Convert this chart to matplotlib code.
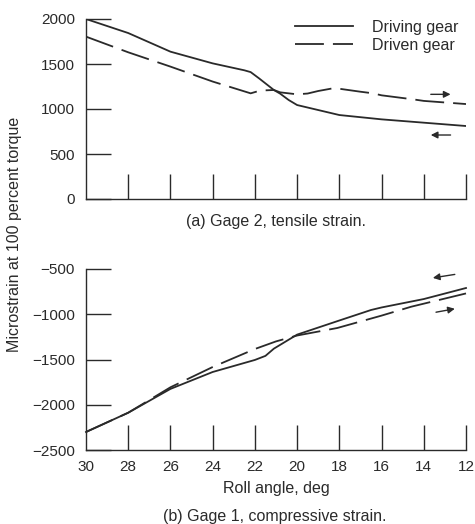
import matplotlib
matplotlib.use("Agg")
import matplotlib.pyplot as plt

plt.rcParams['font.family'] = ['Liberation Sans', 'DejaVu Sans']

# (a) Gage 2, tensile strain
a_drive_x = [30, 28, 26, 24, 22.5, 22.2, 21.8, 21.1, 20.8, 20.4, 20, 18, 16, 14, 12]
a_drive_y = [2000, 1844, 1637, 1507, 1430, 1410, 1340, 1211, 1170, 1100, 1044, 933, 885, 848, 811]
a_driven_x = [30, 28, 26, 24, 22.2, 21.75, 21.1, 20.8, 20, 19.5, 19, 18.3, 18, 17, 16.4, 16, 14.5, 14, 12]
a_driven_y = [1804, 1630, 1471, 1305, 1174, 1205, 1211, 1185, 1163, 1172, 1200, 1230, 1225, 1192, 1174, 1152, 1107, 1090, 1055]

# (b) Gage 1, compressive strain
b_drive_x = [30, 28, 26, 24, 22, 21.5, 21.1, 20, 18, 16.5, 16, 14, 12]
b_drive_y = [-2301, -2088, -1825, -1638, -1505, -1460, -1380, -1225, -1069, -953, -925, -832, -710]
b_driven_x = [30, 28, 26, 24, 22, 21, 20, 18.1, 16, 14.6, 12]
b_driven_y = [-2301, -2088, -1807, -1583, -1384, -1300, -1235, -1152, -1015, -917, -770]

x_ticks = [30, 28, 26, 24, 22, 20, 18, 16, 14, 12]
a_yticks = [0, 500, 1000, 1500, 2000]
b_yticks = [-2500, -2000, -1500, -1000, -500]

ink = '#2a2a2a'
W, H = 475, 524
fig = plt.figure(figsize=(W / 100, H / 100), dpi=100)

def pos(l, r, t, b):
    return [l / W, 1 - b / H, (r - l) / W, (b - t) / H]

ax1 = fig.add_axes(pos(86, 466, 19, 199))
ax2 = fig.add_axes(pos(86, 466, 269, 450))

dash = (0, (16, 5))
for ax in (ax1, ax2):
    ax.set_xlim(30, 12)
    for s in ('top', 'right'):
        ax.spines[s].set_visible(False)
    for s in ('left', 'bottom'):
        ax.spines[s].set_color(ink)
        ax.spines[s].set_linewidth(1.0)
    ax.set_xticks(x_ticks[1:])
    ax.tick_params(axis='both', direction='in', length=18, width=1.0,
                   color=ink, labelcolor=ink, labelsize=11)
    ax.tick_params(axis='y', pad=8)

ax1.plot(a_drive_x, a_drive_y, color=ink, lw=1.3, label='Driving gear')
ax1.plot(a_driven_x, a_driven_y, color=ink, lw=1.3, linestyle=dash, label='Driven gear')
ax1.set_ylim(0, 2000)
ax1.set_yticks(a_yticks)
ax1.tick_params(axis='x', labelbottom=False)
ax1.set_xlabel('(a) Gage 2, tensile strain.', fontsize=11.5, color=ink, labelpad=11)
leg = ax1.legend(loc='upper left', bbox_to_anchor=(295 / W, 1 - 20 / H),
                 bbox_transform=fig.transFigure, frameon=False, borderpad=0,
                 borderaxespad=0, fontsize=11.5, handlelength=3.6,
                 handletextpad=1.25, labelspacing=0.18, labelcolor=ink)

ax2.plot(b_drive_x, b_drive_y, color=ink, lw=1.3, clip_on=False)
ax2.plot(b_driven_x, b_driven_y, color=ink, lw=1.3, linestyle=dash, clip_on=False)
ax2.set_ylim(-2500, -500)
ax2.set_yticks(b_yticks)
ax2.set_xticks(x_ticks)
ax2.set_xticklabels([str(v) for v in x_ticks])
ax2.tick_params(axis='x', pad=7)
ax2.set_xlabel('Roll angle, deg', fontsize=11.5, color=ink, labelpad=5)
ax2.get_xaxis().get_major_ticks()[0].tick1line.set_visible(False)

# direction arrows
arrow_kw = dict(arrowstyle='-|>', color=ink, lw=1.0, mutation_scale=10)
ax1.annotate('', xy=(12.6, 1163), xytext=(13.8, 1163), arrowprops=arrow_kw, annotation_clip=False)
ax1.annotate('', xy=(13.8, 711), xytext=(12.6, 711), arrowprops=arrow_kw, annotation_clip=False)
ax2.annotate('', xy=(13.7, -603), xytext=(12.4, -555), arrowprops=arrow_kw, annotation_clip=False)
ax2.annotate('', xy=(12.4, -934), xytext=(13.55, -983), arrowprops=arrow_kw, annotation_clip=False)

fig.text(275 / W, 1 - 517 / H, '(b) Gage 1, compressive strain.', fontsize=11.5,
         color=ink, ha='center', va='center')
fig.text(15 / W, 1 - 234 / H, 'Microstrain at 100 percent torque', fontsize=11.5,
         color=ink, ha='center', va='center', rotation=90)

fig.savefig('out.png', dpi=100)
